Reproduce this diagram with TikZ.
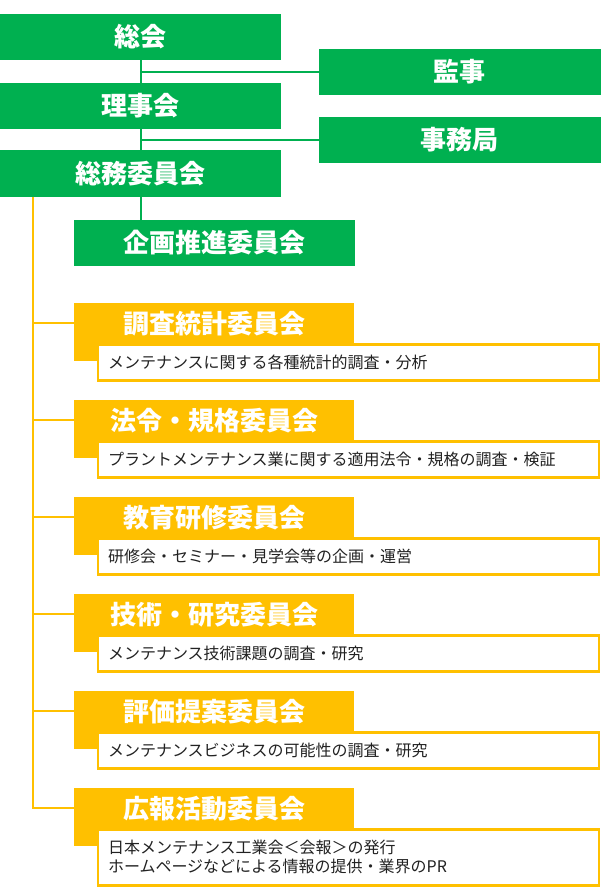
\documentclass[tikz,border=0pt]{standalone}
\usepackage{fontspec}
\setmainfont{Noto Sans CJK JP}
\usetikzlibrary{positioning}
\definecolor{AssocGreen}{HTML}{00B050}
\definecolor{AssocOrange}{HTML}{FFC000}
\definecolor{DescInk}{HTML}{222222}

\tikzset{
  greenbox/.style={fill=AssocGreen, text=white, anchor=north west, inner sep=0pt,
    outer sep=0pt, minimum width=281pt, minimum height=46pt,
    font=\fontsize{26}{30}\selectfont\bfseries},
  headbox/.style={fill=AssocOrange, text=white, anchor=north west, inner sep=0pt,
    outer sep=0pt, minimum width=280pt, minimum height=40pt,
    font=\fontsize{26}{30}\selectfont\bfseries},
  descbox/.style={draw=AssocOrange, line width=2.5pt, fill=white, text=DescInk,
    anchor=north west, outer sep=0pt, inner xsep=10pt, inner ysep=0pt,
    text width=481pt, minimum width=501pt, align=left,
    font=\fontsize{16}{19}\selectfont},
  greenline/.style={draw=AssocGreen, line width=2pt},
  orangeline/.style={draw=AssocOrange, line width=2pt}
}

\begin{document}
\begin{tikzpicture}[x=1pt, y=-1pt]
  \useasboundingbox (0,0) rectangle (600,896);

  % upper organisation
  \node[greenbox] (soukai)    at (0,14)      {総会};
  \node[greenbox, minimum width=282pt] (kanji)     at (318.5,49)  {監事};
  \node[greenbox] (rijikai)   at (0,83)      {理事会};
  \node[greenbox, minimum width=282pt] (jimukyoku) at (318.5,117) {事務局};
  \node[greenbox] (soumu)     at (0,150.5)   {総務委員会};
  \node[greenbox] (kikaku)    at (74,219.5)  {企画推進委員会};

  \draw[greenline] (soukai.south) -- (rijikai.north);
  \draw[greenline] (soukai.south |- kanji.west) -- (kanji.west);
  \draw[greenline] (rijikai.south) -- (soumu.north);
  \draw[greenline] (rijikai.south |- jimukyoku.west) -- (jimukyoku.west);
  \draw[greenline] (soumu.south) -- (soumu.south |- kikaku.north);

  % committees
  \coordinate (trunktop) at ([xshift=33pt]soumu.south west);
  \foreach \i/\ttl/\desc/\h in {
      0/調査統計委員会/メンテナンスに関する各種統計的調査・分析/36,
      1/法令・規格委員会/プラントメンテナンス業に関する適用法令・規格の調査・検証/36,
      2/教育研修委員会/研修会・セミナー・見学会等の企画・運営/36,
      3/技術・研究委員会/メンテナンス技術課題の調査・研究/36,
      4/評価提案委員会/メンテナンスビジネスの可能性の調査・研究/36,
      5/広報活動委員会/{日本メンテナンス工業会＜会報＞の発行\\ホームページなどによる情報の提供・業界のPR}/56} {
    \node[headbox] (head\i) at (74,{303.3+97*\i}) {\ttl};
    \fill[AssocOrange] (head\i.south west) rectangle ([yshift=-18pt]head\i.south east);
    \node[descbox, minimum height=\h pt] (desc\i) at (98,{344.3+97*\i}) {\desc};
  }

  \draw[orangeline] (trunktop) |- (head5.west);
  \foreach \i in {0,...,4}
    \draw[orangeline] (trunktop |- head\i.west) -- (head\i.west);
\end{tikzpicture}
\end{document}
